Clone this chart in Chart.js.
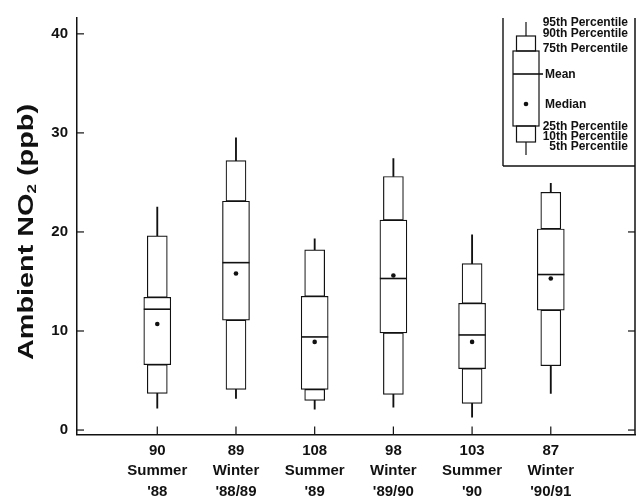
<!DOCTYPE html>
<html>
<head>
<meta charset="utf-8">
<script src="https://cdn.jsdelivr.net/npm/chart.js@4.4.0/dist/chart.umd.min.js"></script>
<style>
  html, body { margin: 0; padding: 0; background: #fff; }
  #wrap { width: 642px; height: 499px; }
</style>
</head>
<body>
<div id="wrap"><canvas id="chart"></canvas></div>
<script>
'use strict';

/* Ambient NO2 box plots by season. */

const counts  = ['90', '89', '108', '98', '103', '87'];
const seasons = ['Summer', 'Winter', 'Summer', 'Winter', 'Summer', 'Winter'];
const years   = ["'88", "'88/89", "'89", "'89/90", "'90", "'90/91"];

const p5     = [2.2, 3.2, 2.1, 2.3, 1.3, 3.7];
const p10    = [3.7, 4.1, 3.0, 3.6, 2.7, 6.5];
const p25    = [6.6, 11.1, 4.1, 9.8, 6.2, 12.1];
const mean   = [12.2, 16.9, 9.4, 15.3, 9.6, 15.7];
const median = [10.7, 15.8, 8.9, 15.6, 8.9, 15.3];
const p75    = [13.4, 23.1, 13.5, 21.2, 12.8, 20.3];
const p90    = [19.6, 27.2, 18.2, 25.6, 16.8, 24.0];
const p95    = [22.5, 29.5, 19.3, 27.4, 19.7, 24.9];

const yTicks = [0, 10, 20, 30, 40];
const legendLabels = ['95th Percentile', '90th Percentile', '75th Percentile', 'Mean',
  'Median', '25th Percentile', '10th Percentile', '5th Percentile'];

const INK = '#111';
const xs = counts.map((_, i) => i + 1);
const span = (lo, hi) => xs.map((x, i) => ({ x, y: [lo[i], hi[i]] }));
const pts = (arr) => xs.map((x, i) => ({ x, y: arr[i] }));

const box = { type: 'bar', backgroundColor: '#fff', borderColor: INK, borderWidth: 1.2,
  borderSkipped: false, grouped: false };
const whisker = { type: 'bar', backgroundColor: INK, borderWidth: 0, barThickness: 1.2, grouped: false, order: 4 };

// ---------------------------------------------------------------- frame + legend + title
function seg(ctx, x1, y1, x2, y2) {
  ctx.beginPath(); ctx.moveTo(x1, y1); ctx.lineTo(x2, y2); ctx.stroke();
}

const frame = {
  id: 'frame',
  afterDraw(chart) {
    const { ctx, chartArea: a, scales: { x, y } } = chart;
    ctx.save();
    ctx.strokeStyle = INK;
    ctx.lineWidth = 1.5;
    seg(ctx, a.right, a.top, a.right, a.bottom);

    // inward ticks
    ctx.lineWidth = 1.2;
    yTicks.forEach((v) => {
      const py = y.getPixelForValue(v);
      seg(ctx, a.left, py, a.left + 7, py);
      if (py > 170) seg(ctx, a.right, py, a.right - 7, py);
    });
    xs.forEach((v) => {
      const px = x.getPixelForValue(v);
      seg(ctx, px, a.bottom, px, a.bottom - 8);
    });

    // legend panel
    const L = 503, B = 166, cx = 526;
    ctx.lineWidth = 1.4;
    seg(ctx, L, a.top, L, B);
    seg(ctx, L, B, a.right, B);
    ctx.lineWidth = 1.2;
    seg(ctx, cx, 22, cx, 36);
    ctx.strokeRect(516.5, 36, 19, 15);
    ctx.strokeRect(513, 51, 26, 75);
    ctx.strokeRect(516.5, 126, 19, 16);
    seg(ctx, cx, 142, cx, 155);
    ctx.lineWidth = 1.6;
    seg(ctx, 513, 74, 543, 74);
    ctx.fillStyle = INK;
    ctx.beginPath(); ctx.arc(cx, 104, 2.3, 0, Math.PI * 2); ctx.fill();

    ctx.font = 'bold 12px "Liberation Sans", Arial, sans-serif';
    ctx.textBaseline = 'middle';
    const ly = [23, 33.5, 48.5, 75, 104.5, 127, 136.5, 146.5];
    legendLabels.forEach((t, i) => {
      if (t.includes('Percentile')) { ctx.textAlign = 'right'; ctx.fillText(t, 628, ly[i]); }
      else { ctx.textAlign = 'left'; ctx.fillText(t, 545, ly[i]); }
    });

    // y title with subscript
    ctx.translate(27, 232);
    ctx.rotate(-Math.PI / 2);
    const big = 'bold 22px "Liberation Sans", Arial, sans-serif';
    const sub = 'bold 13px "Liberation Sans", Arial, sans-serif';
    const parts = [['Ambient NO', big, 0], ['2', sub, 5], [' (ppb)', big, 0]];
    let w = 0;
    parts.forEach(([t, f]) => { ctx.font = f; w += ctx.measureText(t).width; });
    const k = 256 / w;
    ctx.scale(k, 1);
    ctx.textAlign = 'left';
    ctx.textBaseline = 'middle';
    let px = -w / 2;
    parts.forEach(([t, f, dy]) => {
      ctx.font = f; ctx.fillText(t, px, dy); px += ctx.measureText(t).width;
    });
    ctx.restore();
  },
};

// ---------------------------------------------------------------- chart
new Chart(document.getElementById('chart'), {
  type: 'bar',
  data: {
    datasets: [
      { type: 'line', showLine: false, data: pts(median), pointStyle: 'circle', pointRadius: 2.3,
        pointBackgroundColor: INK, pointBorderWidth: 0, order: 0, clip: false },
      { type: 'line', showLine: false, data: pts(mean), pointStyle: 'line', pointRadius: 13.5,
        pointBorderColor: INK, pointBorderWidth: 1.6, order: 1, clip: false },
      { ...box, barThickness: 27, data: span(p25, p75), order: 2 },
      { ...box, barThickness: 20, data: span(p10, p25), order: 3 },
      { ...box, barThickness: 20, data: span(p75, p90), order: 3 },
      { ...whisker, data: span(p5, p10) },
      { ...whisker, data: span(p90, p95) },
    ],
  },
  options: {
    responsive: true, maintainAspectRatio: false, animation: false,
    layout: { autoPadding: false, padding: { top: 13, right: 7, left: 0, bottom: 0 } },
    plugins: { legend: { display: false }, tooltip: { enabled: false } },
    scales: {
      x: {
        type: 'linear', min: -0.02, max: 7.07, offset: false,
        grid: { display: false, drawTicks: false },
        border: { display: true, color: INK, width: 1.5 },
        afterBuildTicks: (s) => { s.ticks = xs.map((v) => ({ value: v })); },
        afterFit: (s) => { s.height = 64.5; },
        ticks: {
          color: INK, padding: 6, maxRotation: 0, autoSkip: false,
          font: { family: '"Liberation Sans", Arial, sans-serif', size: 15, weight: 'bold', lineHeight: 1.37 },
          callback: (v) => [counts[v - 1], seasons[v - 1], years[v - 1]],
        },
      },
      y: {
        min: -0.45, max: 41.6,
        grid: { display: false, drawTicks: false },
        border: { display: true, color: INK, width: 1.5 },
        afterBuildTicks: (s) => { s.ticks = yTicks.map((v) => ({ value: v })); },
        afterFit: (s) => { s.width = 77; },
        ticks: {
          color: INK, padding: 9,
          font: { family: '"Liberation Sans", Arial, sans-serif', size: 15, weight: 'bold' },
        },
      },
    },
  },
  plugins: [frame],
});
</script>
</body>
</html>
